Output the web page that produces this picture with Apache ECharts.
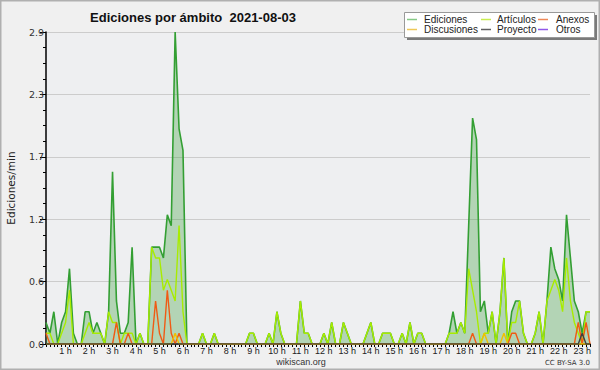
<!DOCTYPE html>
<html><head><meta charset="utf-8">
<script src="https://cdn.jsdelivr.net/npm/echarts@6/dist/echarts.min.js"></script>
<style>html,body{margin:0;padding:0;background:#f0f0f0}#c{width:600px;height:370px}</style>
</head><body><div id="c"></div>
<script>
const titleText = 'Ediciones por ámbito  2021-08-03';
const yAxisName = 'Ediciones/min';
const seriesNames = ['Ediciones', 'Artículos', 'Anexos', 'Discusiones', 'Proyecto', 'Otros'];
// 10-minute slots, first slot ends 00:10
const times = [];
for (let m = 10; m <= 1400; m += 10) {
  const h = Math.floor(m / 60), mm = m % 60;
  times.push(String(h).padStart(2, '0') + ':' + String(mm).padStart(2, '0'));
}
const ediciones = [
0.2,0.1,0.3,0,0.2,0.3,0.7,0.1,0,0,
0.3,0.3,0.1,0.2,0.1,0,0.3,1.6,0.4,0.1,
0.1,0.2,0.9,0,0.1,0,0,0.9,0.9,0.9,
0.8,1.2,1.1,2.9,2.0,1.8,0,0,0,0,
0.1,0,0,0.1,0,0,0,0,0,0,
0,0,0.1,0.1,0,0,0,0.1,0,0.3,
0.1,0,0,0,0,0.4,0.1,0.1,0,0,
0,0.1,0,0.2,0,0,0.2,0.1,0,0,
0,0,0.1,0.2,0,0,0.1,0.1,0.1,0,
0,0.1,0,0.2,0,0.1,0.1,0,0,0,
0,0,0,0.1,0.3,0.1,0.2,0.1,1.1,2.1,
1.9,0.3,0.4,0.1,0.3,0,0.3,0.8,0,0.3,
0.4,0.4,0.1,0,0,0.1,0.3,0,0.4,0.9,
0.7,0.6,0.4,1.2,0.8,0.4,0.3,0.1,0.3,0.3];
const articulos = [
0.1,0.1,0,0,0.1,0.2,0.5,0,0,0,
0.1,0.2,0.1,0.1,0.1,0,0.3,0.2,0.2,0,
0.1,0.1,0.1,0,0.1,0,0,0.9,0.8,0.8,
0.5,0.6,0.5,0.4,1.1,0.3,0,0,0,0,
0.1,0,0,0.1,0,0,0,0,0,0,
0,0,0.1,0.1,0,0,0,0.1,0,0.3,
0.1,0,0,0,0,0.4,0.1,0.1,0,0,
0,0.1,0,0.2,0,0,0.2,0.1,0,0,
0,0,0.1,0.2,0,0,0.1,0.1,0.1,0,
0,0.1,0,0.2,0,0.1,0.1,0,0,0,
0,0,0,0.1,0.1,0.1,0.2,0.1,0.7,0.5,
0.3,0,0.1,0.1,0.3,0,0.3,0.8,0,0.2,
0.2,0.4,0.1,0,0,0.1,0.3,0,0.4,0.5,
0.6,0.5,0.3,0.8,0.4,0.2,0.1,0,0.3,0.3];
const anexos = [
0.1,0,0,0,0,0,0,0,0,0,
0,0,0,0,0,0,0,0,0.2,0,
0,0.1,0,0,0,0,0,0,0.4,0.1,
0,0.5,0.1,0,0.1,0,0,0,0,0,
0,0,0,0,0,0,0,0,0,0,
0,0,0,0,0,0,0,0,0,0,
0,0,0,0,0,0,0,0,0,0,
0,0,0,0,0,0,0,0,0,0,
0,0,0,0,0,0,0,0,0,0,
0,0,0,0,0,0,0,0,0,0,
0,0,0,0,0,0,0,0,0,0.1,
0,0,0,0,0,0,0,0,0,0.1,
0.1,0,0,0,0,0,0,0,0,0,
0,0,0,0,0,0,0.2,0,0.2,0];
const discusiones = [
0,0,0,0,0,0,0,0,0,0,
0,0,0,0,0,0,0,0,0,0,
0,0,0,0,0,0,0,0,0,0,
0,0,0,0.1,0,0,0,0,0,0,
0,0,0,0,0,0,0,0,0,0,
0,0,0,0,0,0,0,0,0,0,
0,0,0,0,0,0,0,0,0,0,
0,0,0,0,0,0,0,0,0,0,
0,0,0,0,0,0,0,0,0,0,
0,0,0,0,0,0,0,0,0,0,
0,0,0,0,0,0,0,0,0,0,
0,0,0.1,0,0,0,0,0.1,0,0,
0,0,0,0,0,0,0,0,0,0,
0,0,0,0,0,0,0,0,0,0];
const proyecto = [
0,0,0,0,0,0,0,0,0,0,
0,0,0,0,0,0,0,0,0,0,
0,0,0,0,0,0,0,0,0,0,
0,0,0,0,0,0,0,0,0,0,
0,0,0,0,0,0,0,0,0,0,
0,0,0,0,0,0,0,0,0,0,
0,0,0,0,0,0,0,0,0,0,
0,0,0,0,0,0,0,0,0,0,
0,0,0,0,0,0,0,0,0,0,
0,0,0,0,0,0,0,0,0,0,
0,0,0,0,0,0,0,0,0,0,
0,0,0,0,0,0,0,0,0,0,
0,0,0,0,0,0,0,0,0,0,
0,0,0,0,0,0,0,0.1,0,0];
const otros = [];
const lineColors = ['#339f33', '#a8ec00', '#f05a14', '#f0c000', '#404040', '#8040e0'];
const legendColors = ['#86c986', '#c8ec50', '#ee8858', '#eec858', '#606060', '#9058e8'];

const chart = echarts.init(document.getElementById('c'), null, {renderer: 'svg'});
const FONT = '"DejaVu Sans", sans-serif';
const FONT2 = '"Liberation Sans", Arial, sans-serif';

const dataSets = [ediciones, articulos, anexos, discusiones, proyecto, otros];
const series = dataSets.map((d, k) => ({
  name: seriesNames[k], type: 'line', data: d, symbol: 'none', silent: true,
  lineStyle: {color: lineColors[k], width: k === 0 ? 1.6 : 1.4},
  itemStyle: {color: lineColors[k]},
  areaStyle: k === 0 ? {color: 'rgba(62,160,62,0.48)'} : undefined,
  z: 2 + k, animation: false
}));

const graphics = [
  {type: 'rect', shape: {x: 0.5, y: 0.5, width: 599, height: 369}, style: {fill: 'none', stroke: '#b0b0b0', lineWidth: 2}, silent: true, z: 100},
  {type: 'rect', shape: {x: 407, y: 15, width: 190, height: 25}, style: {fill: '#7a7a7a'}, silent: true, z: 100},
  {type: 'rect', shape: {x: 404.5, y: 12.5, width: 190, height: 25}, style: {fill: '#ffffff', stroke: '#999', lineWidth: 1}, silent: true, z: 101},
  {type: 'text', x: 301, y: 362, style: {text: 'wikiscan.org', fill: '#333', font: '9px ' + FONT2, textAlign: 'center', textVerticalAlign: 'middle'}, silent: true, z: 100},
  {type: 'text', x: 590, y: 363, style: {text: 'CC BY-SA 3.0', fill: '#333', font: '7px ' + FONT, textAlign: 'right', textVerticalAlign: 'middle'}, silent: true, z: 100}
];
const colX = [407, 481, 538];
const rowY = [19.5, 29.5];
const textX = [424, 497, 556];
const order = [[0,1,2],[3,4,5]];
order.forEach((row, r) => row.forEach((k, c) => {
  graphics.push({type: 'line', shape: {x1: colX[c], y1: rowY[r], x2: colX[c] + 10, y2: rowY[r]},
    style: {stroke: legendColors[k], lineWidth: 1.5}, silent: true, z: 110});
  graphics.push({type: 'text', x: textX[c], y: rowY[r], style: {text: seriesNames[k], fill: '#222', font: '10px ' + FONT2, textVerticalAlign: 'middle'}, silent: true, z: 110});
}));

chart.setOption({
  animation: false,
  backgroundColor: '#f0f0f0',
  title: {text: titleText, left: 188, top: 6, textAlign: 'center',
    textStyle: {fontFamily: FONT2, fontWeight: 'bold', fontSize: 13, color: '#111'}},
  grid: {left: 46, right: 10, top: 32, bottom: 26, show: true, backgroundColor: '#eeeff1', borderWidth: 0,
    containLabel: false, outerBoundsMode: 'none'},
  xAxis: {type: 'category', data: times, boundaryGap: false,
    axisLine: {lineStyle: {color: '#000', width: 1.5}},
    axisTick: {show: true, interval: 0, length: 3, lineStyle: {color: '#000'}},
    axisLabel: {interval: (i, v) => v.endsWith(':00'), formatter: v => parseInt(v, 10) + ' h',
      fontFamily: FONT2, fontSize: 9, color: '#222', margin: 2},
    splitLine: {show: false}},
  yAxis: {type: 'value', min: 0, max: 2.9, interval: 0.58,
    name: yAxisName, nameLocation: 'middle', nameGap: 30, nameRotate: 90,
    nameTextStyle: {fontFamily: FONT, fontSize: 10.5, color: '#222'},
    axisLine: {show: true, lineStyle: {color: '#000', width: 1.5}},
    axisTick: {show: true, length: 6, lineStyle: {color: '#000'}},
    minorTick: {show: true, splitNumber: 4, length: 3, lineStyle: {color: '#000'}},
    axisLabel: {formatter: v => v.toFixed(1), fontFamily: FONT, fontSize: 9.5, color: '#333', margin: 2},
    splitLine: {show: true, lineStyle: {color: '#cccccc', width: 1}}},
  series: series,
  graphic: graphics
});
</script></body></html>
